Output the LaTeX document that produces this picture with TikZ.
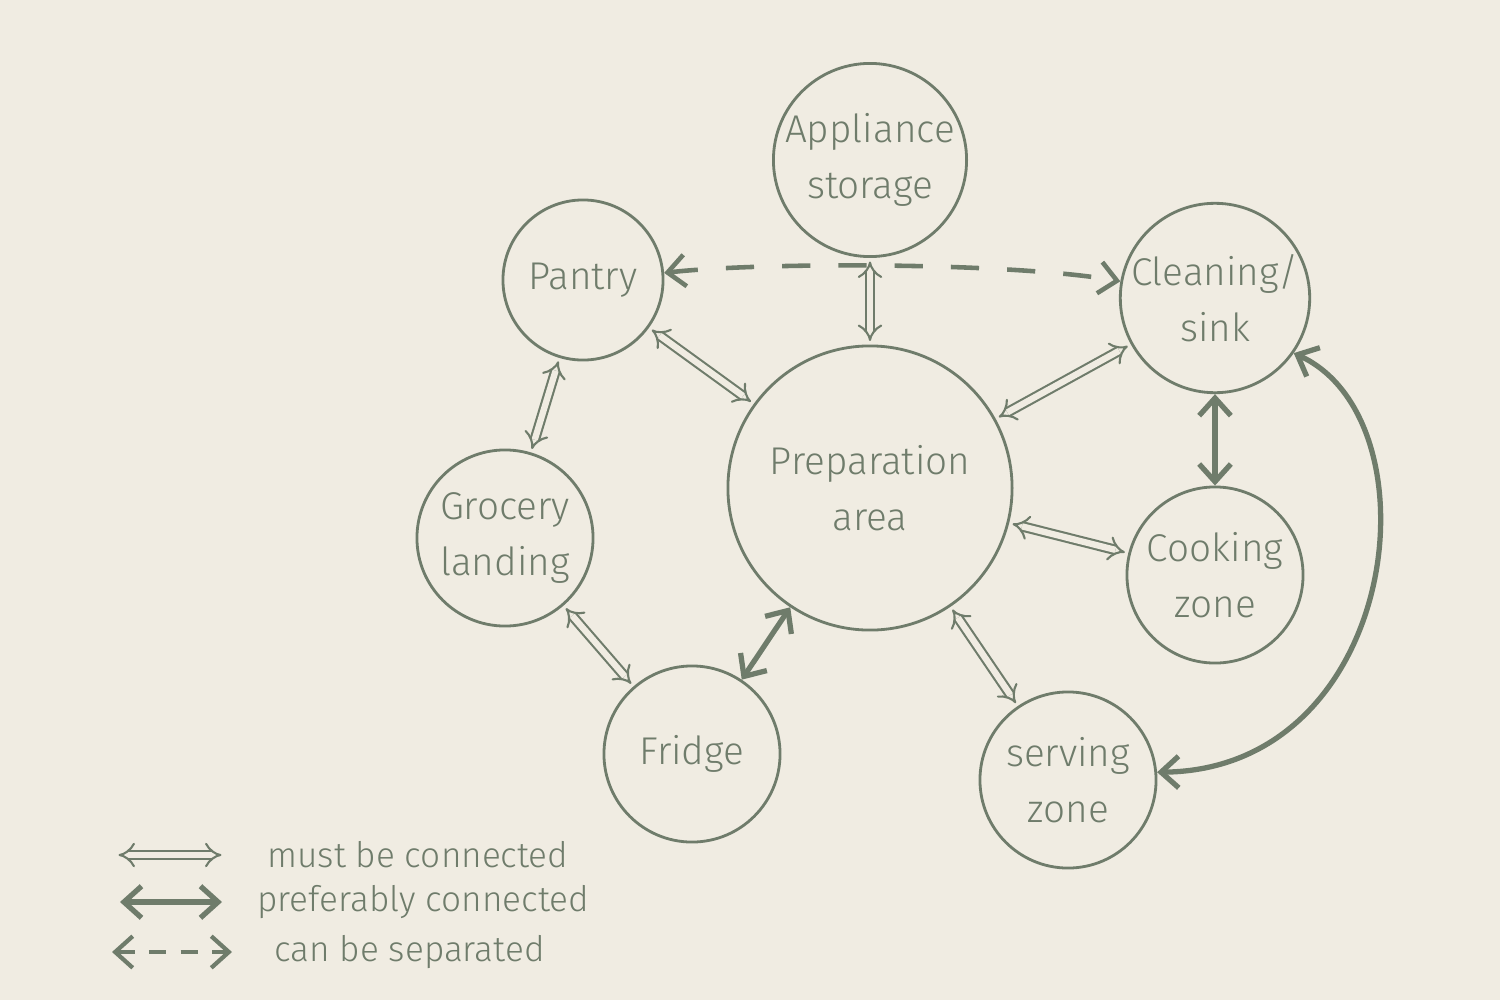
\documentclass[tikz,border=0pt]{standalone}
\usepackage{fontspec}
\setmainfont{Fira Sans Light}
\usetikzlibrary{arrows.meta}
\definecolor{bg}{HTML}{F0ECE2}
\definecolor{ink}{HTML}{6F7C6B}
\begin{document}
\begin{tikzpicture}[x=0.01cm,y=-0.01cm,
  zone/.style={circle,draw=ink,line width=0.8pt,align=center,text=ink,font=\fontsize{11}{16}\selectfont,inner sep=0pt},
  must/.style={draw=ink,line width=0.6pt,double=bg,double distance=1.8pt,{Implies[]}-{Implies[]},shorten >=1pt,shorten <=1pt},
  pref/.style={draw=ink,line width=1.5pt,{Straight Barb[length=5pt,width=9pt]}-{Straight Barb[length=5pt,width=9pt]},line cap=round},
  sep/.style={draw=ink,line width=1.3pt,dash pattern=on 8pt off 8pt,{Straight Barb[length=5pt,width=9pt]}-{Straight Barb[length=5pt,width=9pt]}},
  lbl/.style={text=ink,font=\fontsize{10}{12}\selectfont,anchor=west}]
\fill[bg] (0,0) rectangle (1500,1000);
\useasboundingbox (0,0) rectangle (1500,1000);
\node[zone,minimum size=1.9cm] (app) at (870,160) {Appliance\\storage};
\node[zone,minimum size=1.6cm] (pan) at (583,280) {Pantry};
\node[zone,minimum size=1.76cm] (cle) at (1215,298) {Cleaning/\\sink};
\node[zone,minimum size=2.84cm] (pre) at (870,488) {Preparation\\area};
\node[zone,minimum size=1.76cm] (gro) at (505,538) {Grocery\\landing};
\node[zone,minimum size=1.76cm] (coo) at (1215,575) {Cooking\\zone};
\node[zone,minimum size=1.76cm] (fri) at (692,754) {Fridge};
\node[zone,minimum size=1.76cm] (ser) at (1068,780) {serving\\zone};
\draw[must] (app) -- (pre);
\draw[must] (pan) -- (pre);
\draw[must] (cle) -- (pre);
\draw[must] (pre) -- (coo);
\draw[must] (pre) -- (ser);
\draw[must] (gro) -- (fri);
\draw[must] (pan) -- (gro);
\draw[pref] (pre) -- (fri);
\draw[pref] (cle) -- (coo);
\draw[pref] (cle.-35) .. controls (1440,420) and (1400,770) .. (ser.5);
\draw[sep] (pan.5) .. controls (760,262) and (1010,262) .. (cle.170);
\coordinate (l1a) at (115,855); \coordinate (l1b) at (225,855);
\coordinate (l2a) at (120,902); \coordinate (l2b) at (222,902);
\coordinate (l3a) at (112,952); \coordinate (l3b) at (232,952);
\draw[must] (l1a) -- (l1b);
\draw[pref] (l2a) -- (l2b);
\draw[sep,line width=1.2pt,dash pattern=on 5pt off 4pt] (l3a) -- (l3b);
\node[lbl] (t1) at (255,855) {must be connected};
\node[lbl] (t2) at (245,902) {preferably connected};
\node[lbl] (t3) at (262,952) {can be separated};
\end{tikzpicture}
\end{document}
